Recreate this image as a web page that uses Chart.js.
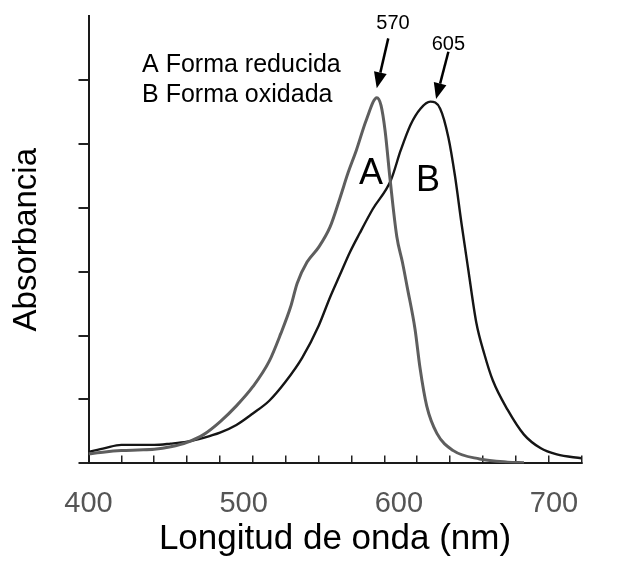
<!DOCTYPE html>
<html>
<head>
<meta charset="utf-8">
<script src="https://cdn.jsdelivr.net/npm/chart.js@4/dist/chart.umd.min.js"></script>
<style>
html,body{margin:0;padding:0;background:#fff;}
#wrap{width:617px;height:566px;position:relative;}
</style>
</head>
<body>
<div id="wrap"><canvas id="c"></canvas></div>
<script>
// ---- data ----
const wavelengthA = [400,410,420,430,440,450,460,470,480,490,500,510,517,523,527,533,540,547,553,558,563,569,575.5,578,580.5,583.5,587.6,591,594,598.7,601.7,605.8,612,622,638,655,665];
const absorbanceA = [0.15,0.18,0.2,0.21,0.22,0.26,0.33,0.45,0.65,0.9,1.2,1.6,2.03,2.45,2.82,3.15,3.38,3.7,4.15,4.55,4.9,5.37,5.72,5.6,5.2,4.45,3.55,3.15,2.75,2.1,1.5,0.9,0.47,0.2,0.07,0.02,0.01];
const wavelengthB = [400,410,420,430,440,450,460,470,480,490,500,510,520,530,540,547,553,559,565,573,584,590,596,602,608,614,619,623,627,631,636,641,646,655,665,675,685,700];
const absorbanceB = [0.18,0.24,0.29,0.29,0.29,0.31,0.34,0.4,0.48,0.6,0.78,0.98,1.28,1.65,2.15,2.6,2.95,3.3,3.6,3.98,4.43,4.9,5.3,5.55,5.66,5.55,5.1,4.5,3.75,3.05,2.2,1.7,1.3,0.84,0.45,0.24,0.14,0.08];
const xTickValues = [400,420,440,460,480,500,520,540,560,580,600,620,640,660,680,700];
const xLabelValues = [400,500,600,700];
const yTickValues = [0,1,2,3,4,5,6];
const seriesNames = ['A Forma reducida','B Forma oxidada'];
const curveLetters = ['A','B'];
const peakLabels = ['570','605'];

// ---- annotation placement (data coordinates) ----
const legendAnchors = [{x:432.6,y:6.12},{x:432.6,y:5.66}];
const letterAnchors = [{x:571.9,y:4.37},{x:606.6,y:4.26}];
const peakTextAnchors = [{x:585.3,y:6.80},{x:619,y:6.47}];
const arrowTails = [{x:582.4,y:6.65},{x:619,y:6.44}];
const arrowTips = [{x:575.4,y:5.87},{x:611.5,y:5.70}];

const FONT = '"Liberation Sans", Arial, Helvetica, sans-serif';

const annotPlugin = {
  id: 'annot',
  afterDatasetsDraw(chart) {
    const ctx = chart.ctx, xs = chart.scales.x, ys = chart.scales.y;
    const px = v => xs.getPixelForValue(v), py = v => ys.getPixelForValue(v);
    ctx.save();
    ctx.fillStyle = '#000';
    ctx.textBaseline = 'alphabetic';
    ctx.textAlign = 'left';
    ctx.font = '25px ' + FONT;
    seriesNames.forEach((t,i) => ctx.fillText(t, px(legendAnchors[i].x), py(legendAnchors[i].y)));
    ctx.textAlign = 'center';
    ctx.font = '36px ' + FONT;
    curveLetters.forEach((t,i) => ctx.fillText(t, px(letterAnchors[i].x), py(letterAnchors[i].y)));
    ctx.font = '20px ' + FONT;
    peakLabels.forEach((t,i) => ctx.fillText(t, px(peakTextAnchors[i].x), py(peakTextAnchors[i].y)));
    // arrows
    ctx.strokeStyle = '#000';
    ctx.lineWidth = 2.5;
    arrowTails.forEach((tail,i) => {
      const x0 = px(tail.x), y0 = py(tail.y), x1 = px(arrowTips[i].x), y1 = py(arrowTips[i].y);
      const ang = Math.atan2(y1-y0, x1-x0);
      const hl = 16, hw = 6.5;
      const bx = x1 - hl*Math.cos(ang), by = y1 - hl*Math.sin(ang);
      ctx.beginPath(); ctx.moveTo(x0,y0); ctx.lineTo(bx,by); ctx.stroke();
      ctx.beginPath();
      ctx.moveTo(x1,y1);
      ctx.lineTo(bx + hw*Math.sin(ang), by - hw*Math.cos(ang));
      ctx.lineTo(bx - hw*Math.sin(ang), by + hw*Math.cos(ang));
      ctx.closePath(); ctx.fill();
    });
    ctx.restore();
  }
};

new Chart(document.getElementById('c'), {
  type: 'line',
  data: {
    datasets: [
      { label: seriesNames[0], xAxisID: 'x', data: wavelengthA.map((w,i)=>({x:w,y:absorbanceA[i]})),
        borderColor: '#5e5e5e', borderWidth: 3, pointRadius: 0, cubicInterpolationMode: 'monotone', fill: false },
      { label: seriesNames[1], xAxisID: 'x', data: wavelengthB.map((w,i)=>({x:w,y:absorbanceB[i]})),
        borderColor: '#151515', borderWidth: 2.4, pointRadius: 0, cubicInterpolationMode: 'monotone', fill: false }
    ]
  },
  options: {
    responsive: true,
    maintainAspectRatio: false,
    animation: false,
    devicePixelRatio: 1,
    layout: { padding: { top: 16, right: 35.5, bottom: 5.6, left: 0 } },
    plugins: { legend: { display: false }, tooltip: { enabled: false } },
    scales: {
      x: {
        type: 'linear', position: 'bottom', weight: 0,
        min: 400, max: 700,
        afterBuildTicks: s => { s.ticks = xTickValues.map(v => ({value: v})); },
        afterFit: s => { s.height = 0; },
        ticks: { display: false },
        grid: { display: true, drawOnChartArea: false, drawTicks: true, tickLength: -8, color: '#222', lineWidth: 1.5 },
        border: { display: true, color: '#1a1a1a', width: 2 }
      },
      x2: {
        type: 'linear', position: 'bottom', weight: 1,
        min: 400, max: 717.7,
        afterBuildTicks: s => { s.ticks = xLabelValues.map(v => ({value: v})); },
        afterFit: s => { s.height = 97; },
        ticks: { display: true, padding: 15, color: '#555', font: { family: FONT, size: 29 }, maxRotation: 0, autoSkip: false },
        grid: { display: false },
        border: { display: false },
        title: { display: true, text: 'Longitud de onda (nm)', color: '#000', font: { family: FONT, size: 35 }, padding: { top: 4, bottom: 0 } }
      },
      y: {
        type: 'linear', position: 'left',
        min: 0, max: 7,
        afterBuildTicks: s => { s.ticks = yTickValues.map(v => ({value: v})); },
        afterFit: s => { s.width = 88.5; },
        ticks: { display: false },
        grid: { display: true, drawOnChartArea: false, drawTicks: true, tickLength: 10, color: '#222', lineWidth: 2 },
        border: { display: true, color: '#1a1a1a', width: 2 },
        title: { display: true, text: 'Absorbancia', color: '#000', font: { family: FONT, size: 33 }, padding: { top: 7, bottom: 30 } }
      }
    }
  },
  plugins: [annotPlugin]
});
</script>
</body>
</html>
